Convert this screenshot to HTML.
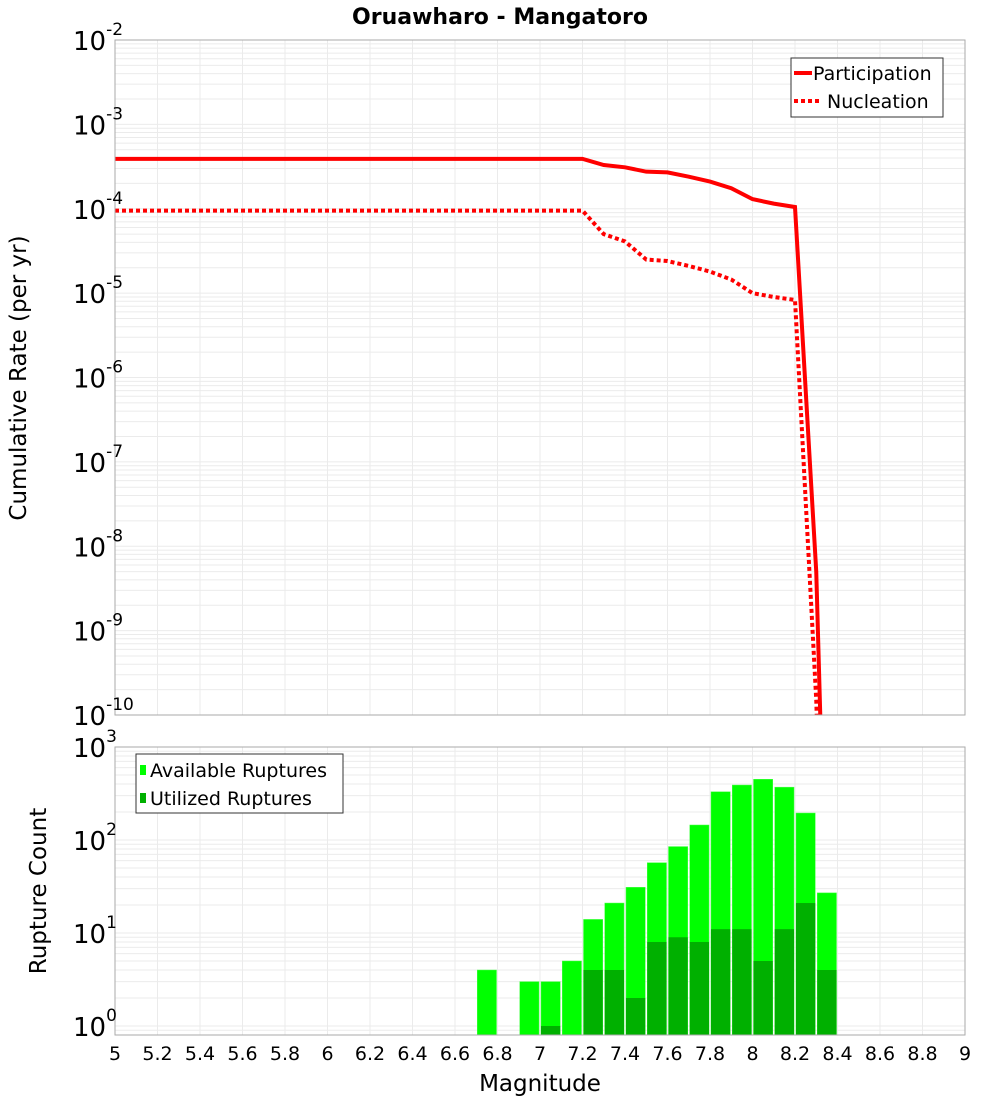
<!DOCTYPE html>
<html><head><meta charset="utf-8"><style>
html,body{margin:0;padding:0;background:#fff;overflow:hidden;font-family:"Liberation Sans","DejaVu Sans",sans-serif}
svg{display:block}
svg text{font-family:"DejaVu Sans","Liberation Sans",sans-serif}
</style></head><body>
<svg id="c" width="1000" height="1100" xmlns="http://www.w3.org/2000/svg">
<text x="500" y="24" text-anchor="middle" font-size="22" font-weight="bold">Oruawharo - Mangatoro</text>
<text transform="translate(26,378) rotate(-90)" text-anchor="middle" font-size="23">Cumulative Rate (per yr)</text>
<text transform="translate(46,891) rotate(-90)" text-anchor="middle" font-size="23">Rupture Count</text>
<text x="540" y="1091" text-anchor="middle" font-size="23">Magnitude</text>
<g id="g"></g>
</svg>
<script>
const mags=[5.0,5.1,5.2,5.3,5.4,5.5,5.6,5.7,5.8,5.9,6.0,6.1,6.2,6.3,6.4,6.5,6.6,6.7,6.8,6.9,7.0,7.1,7.2,7.3,7.4,7.5,7.6,7.7,7.8,7.9,8.0,8.1,8.2,8.3,8.4];
const participation=[3.9e-4,3.9e-4,3.9e-4,3.9e-4,3.9e-4,3.9e-4,3.9e-4,3.9e-4,3.9e-4,3.9e-4,3.9e-4,3.9e-4,3.9e-4,3.9e-4,3.9e-4,3.9e-4,3.9e-4,3.9e-4,3.9e-4,3.9e-4,3.9e-4,3.9e-4,3.9e-4,3.3e-4,3.1e-4,2.75e-4,2.7e-4,2.4e-4,2.1e-4,1.75e-4,1.3e-4,1.15e-4,1.05e-4,5e-9,5e-18];
const nucleation=[9.5e-5,9.5e-5,9.5e-5,9.5e-5,9.5e-5,9.5e-5,9.5e-5,9.5e-5,9.5e-5,9.5e-5,9.5e-5,9.5e-5,9.5e-5,9.5e-5,9.5e-5,9.5e-5,9.5e-5,9.5e-5,9.5e-5,9.5e-5,9.5e-5,9.5e-5,9.5e-5,5e-5,4.1e-5,2.5e-5,2.4e-5,2.1e-5,1.8e-5,1.45e-5,1.0e-5,9e-6,8.3e-6,1.5e-10,1e-18];
const binCenters=[6.75,6.95,7.05,7.15,7.25,7.35,7.45,7.55,7.65,7.75,7.85,7.95,8.05,8.15,8.25,8.35];
const available=[4,3,3,5,14,21,31,57,85,145,330,390,450,370,195,27];
const utilized=[0,0,1,0,4,4,2,8,9,8,11,11,5,11,21,4];
const xTicks=[5,5.2,5.4,5.6,5.8,6,6.2,6.4,6.6,6.8,7,7.2,7.4,7.6,7.8,8,8.2,8.4,8.6,8.8,9];
const topExps=[-2,-3,-4,-5,-6,-7,-8,-9,-10];
const botExps=[3,2,1,0];

const NS="http://www.w3.org/2000/svg";
const g=document.getElementById('g');
function mk(t,a,p){const e=document.createElementNS(NS,t);for(const k in a)e.setAttribute(k,a[k]);(p||g).appendChild(e);return e;}
const L=115,R=965;
const X=m=>L+(m-5)*(R-L)/4;
const T0=40,T1=715;
const YT=v=>T0+(-2-Math.log10(v))*(T1-T0)/8;
const B0=747,B1=1035,BD=93;
const YB=v=>B0+(3-Math.log10(v))*BD;

function grid(top,bot,yf,e0,e1){
  for(let e=e1;e<e0;e++)for(let k=1;k<10;k++){const y=yf(k*Math.pow(10,e));if(y>=top&&y<=bot){
    const l=mk('line',{x1:L,x2:R,y1:y,y2:y,stroke:'#ebebeb','stroke-width':1});
    
    }}
  xTicks.forEach(t=>{const l=mk('line',{x1:X(t),x2:X(t),y1:top,y2:bot,stroke:'#ebebeb','stroke-width':1});
    
    });
}
grid(T0,T1,YT,-1,-10);
grid(B0,B1,YB,4,-1);

function line(vals,dash,name){
  const pts=mags.map((m,i)=>X(m)+','+YT(vals[i])).join(' ');
  const p=mk('polyline',{points:pts,fill:'none',stroke:'#ff0000','stroke-width':4,'clip-path':'url(#ct)'});
  if(dash)p.setAttribute('stroke-dasharray','4,3');
  
  
}
const defs=mk('defs',{});
const cp=mk('clipPath',{id:'ct'},defs);mk('rect',{x:L,y:T0,width:R-L,height:T1-T0},cp);
line(participation,false,'participation-line');
line(nucleation,true,'nucleation-line');

binCenters.forEach((c,i)=>{
  const x0=X(c-0.05)+1,w=X(c+0.05)-X(c-0.05)-2;
  if(available[i]>0){const y=YB(available[i]);const r=mk('rect',{x:x0,y:y,width:w,height:B1-y,fill:'#00ff00',stroke:'#4dff4d','stroke-width':0.5});
    
    }
  if(utilized[i]>0){const y=YB(utilized[i]);const r=mk('rect',{x:x0,y:y,width:w,height:B1-y,fill:'#00b000'});
    
    }
});

[[T0,T1,'top-plot-frame'],[B0,B1,'bottom-plot-frame']].forEach(a=>{const r=mk('rect',{x:L,y:a[0],width:R-L,height:a[1]-a[0],fill:'none',stroke:'#aaa','stroke-width':1});
  
  });

function pw(y,e,name){const t=mk('text',{x:73,y:y+10,'font-size':26});
  
  
  t.textContent='10';const s=mk('tspan',{dy:-15,'font-size':17},t);s.textContent=String(e);}
topExps.forEach(e=>pw(YT(Math.pow(10,e)),e,'top-y-tick-label'));
botExps.forEach(e=>pw(YB(Math.pow(10,e)),e,'bottom-y-tick-label'));
xTicks.forEach(t=>{const s=mk('text',{x:X(t),y:1060,'text-anchor':'middle','font-size':19});
  
  
  s.textContent=String(t);});

const lg=mk('g',{});


mk('rect',{x:791,y:58,width:152,height:59,fill:'#fff',stroke:'#333','stroke-width':1},lg);
mk('line',{x1:794,x2:812,y1:73,y2:73,stroke:'#f00','stroke-width':4},lg);
mk('line',{x1:794,x2:822,y1:101,y2:101,stroke:'#f00','stroke-width':4,'stroke-dasharray':'4,3'},lg);
let t=mk('text',{x:813,y:80,'font-size':19},lg);t.textContent='Participation';
t=mk('text',{x:827,y:108,'font-size':19},lg);t.textContent='Nucleation';
const lb=mk('g',{});


mk('rect',{x:136,y:754,width:207,height:59,fill:'#fff',stroke:'#333','stroke-width':1},lb);
mk('rect',{x:140,y:765,width:6,height:10,fill:'#00ff00'},lb);
mk('rect',{x:140,y:793,width:6,height:10,fill:'#00b000'},lb);
t=mk('text',{x:150,y:777,'font-size':19},lb);t.textContent='Available Ruptures';
t=mk('text',{x:150,y:805,'font-size':19},lb);t.textContent='Utilized Ruptures';
</script>
</body></html>
